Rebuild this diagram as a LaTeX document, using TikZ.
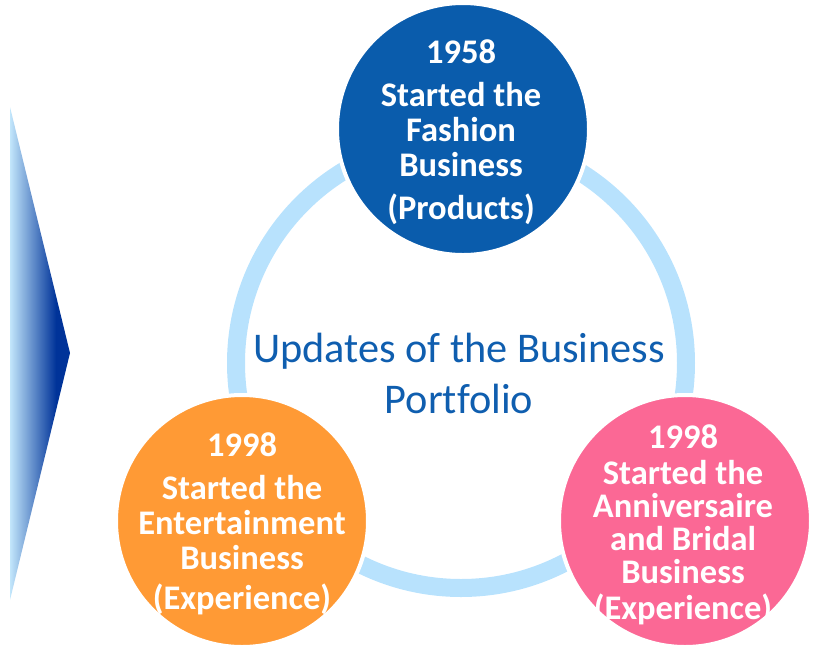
\documentclass[tikz,border=0pt]{standalone}
\usepackage{fontspec}
\setmainfont{Carlito}[Ligatures=NoCommon]
\definecolor{topblue}{HTML}{0A5CAC}
\definecolor{orangec}{HTML}{FF9A35}
\definecolor{pinkc}{HTML}{FB6895}
\definecolor{ringblue}{HTML}{B8E2FD}
\definecolor{txtblue}{HTML}{0F5EAF}
\definecolor{chevlight}{HTML}{C2E6FB}
\definecolor{chevdark}{HTML}{003399}
\tikzset{
  bubble/.style={circle, draw=white, line width=4pt, minimum size=252pt, inner sep=0pt},
  bubbletext/.style={text=white, align=center, font=\bfseries\fontsize{34.5}{35}\selectfont},
}
\begin{document}
\begin{tikzpicture}[x=1pt,y=-1pt]
\useasboundingbox (0,0) rectangle (815,649);
% chevron
\begin{scope}
  \clip (10,107) -- (70,353) -- (10,600) -- cycle;
  \shade[left color=chevlight, right color=chevdark] (10,100) rectangle (56,610);
  \fill[chevdark] (55.5,100) rectangle (72,610);
\end{scope}
% ring
\coordinate (rc) at (461,363);
\draw[ringblue, line width=18pt] (rc) circle[radius=225];
% bubbles
\node[bubble, fill=topblue] (top) at (463,129) {};
\node[bubble, fill=orangec] (left) at (242,521) {};
\node[bubble, fill=pinkc] (right) at (685,521) {};
\node[bubbletext] (toptext) at (461,132) {1958\\[8pt]Started the\\Fashion\\Business\\[8pt](Products)};
\node[bubbletext] (lefttext) at (242,524) {1998\\[8pt]Started the\\Entertainment\\Business\\[5pt](Experience)};
\node[bubbletext, font=\bfseries\fontsize{34.5}{33}\selectfont] (righttext) at (683,525) {1998\\[3pt]Started the\\Anniversaire\\and Bridal\\Business\\[3pt](Experience)};
% centre title
\node[text=txtblue, align=center, font=\fontsize{42.3}{51}\selectfont] (title) at (459,373) {Updates of the Business\\Portfolio};
\end{tikzpicture}
\end{document}
